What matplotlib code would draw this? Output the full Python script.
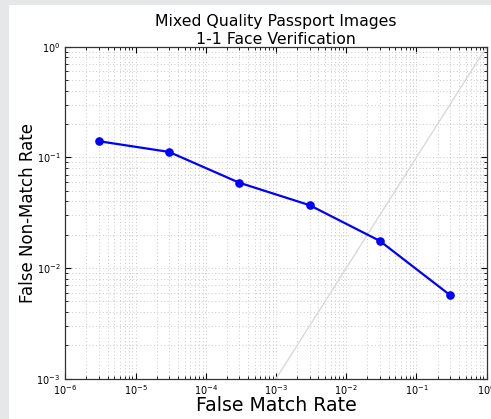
import matplotlib
matplotlib.use("Agg")
import matplotlib.pyplot as plt
from matplotlib.patches import Rectangle

# Datos
fmr = [3e-6, 3e-5, 3e-4, 3e-3, 3e-2, 3e-1]
fnmr = [0.14, 0.112, 0.059, 0.037, 0.0176, 0.0057]
diag = [1e-6, 1.0]

fig = plt.figure(figsize=(4.91, 4.19), dpi=100, facecolor="white")

# borde gris de la captura (izquierda y arriba)
fig.patches.append(Rectangle((0, 0), 9 / 491, 1, transform=fig.transFigure,
                             facecolor="#e6e7e9", edgecolor="none", zorder=-10))
fig.patches.append(Rectangle((0, 1 - 5 / 419), 1, 5 / 419, transform=fig.transFigure,
                             facecolor="#e6e7e9", edgecolor="none", zorder=-10))

ax = fig.add_axes([65.3 / 491, 1 - 378.7 / 419, (486.7 - 65.3) / 491, (378.7 - 46.7) / 419])

ax.plot(diag, diag, color="#d9d9d9", lw=1)
ax.plot(fmr, fnmr, color="#0000ff", lw=1.6, marker="o", markersize=5.2)

ax.set_xscale("log")
ax.set_yscale("log")
ax.set_xlim(1e-6, 1)
ax.set_ylim(1e-3, 1)

ax.grid(True, which="both", color="#c8c8c8", linestyle=(0, (1, 2.5)), lw=0.7)
ax.tick_params(which="both", direction="in", top=True, right=True, labelsize=7)
ax.tick_params(which="major", length=4, width=0.8)
ax.tick_params(which="minor", length=2, width=0.6)
for s in ax.spines.values():
    s.set_linewidth(0.9)
    s.set_color("#333333")

ax.set_xlabel("False Match Rate", fontsize=13.6)
ax.set_ylabel("False Non-Match Rate", fontsize=12)
ax.xaxis.set_label_coords(0.5, -0.052)
ax.yaxis.set_label_coords(-0.066, 0.5)
ax.set_title("Mixed Quality Passport Images\n1-1 Face Verification", fontsize=11.3,
             linespacing=1.2, pad=1)

fig.savefig("out.png", dpi=100, facecolor="white")
